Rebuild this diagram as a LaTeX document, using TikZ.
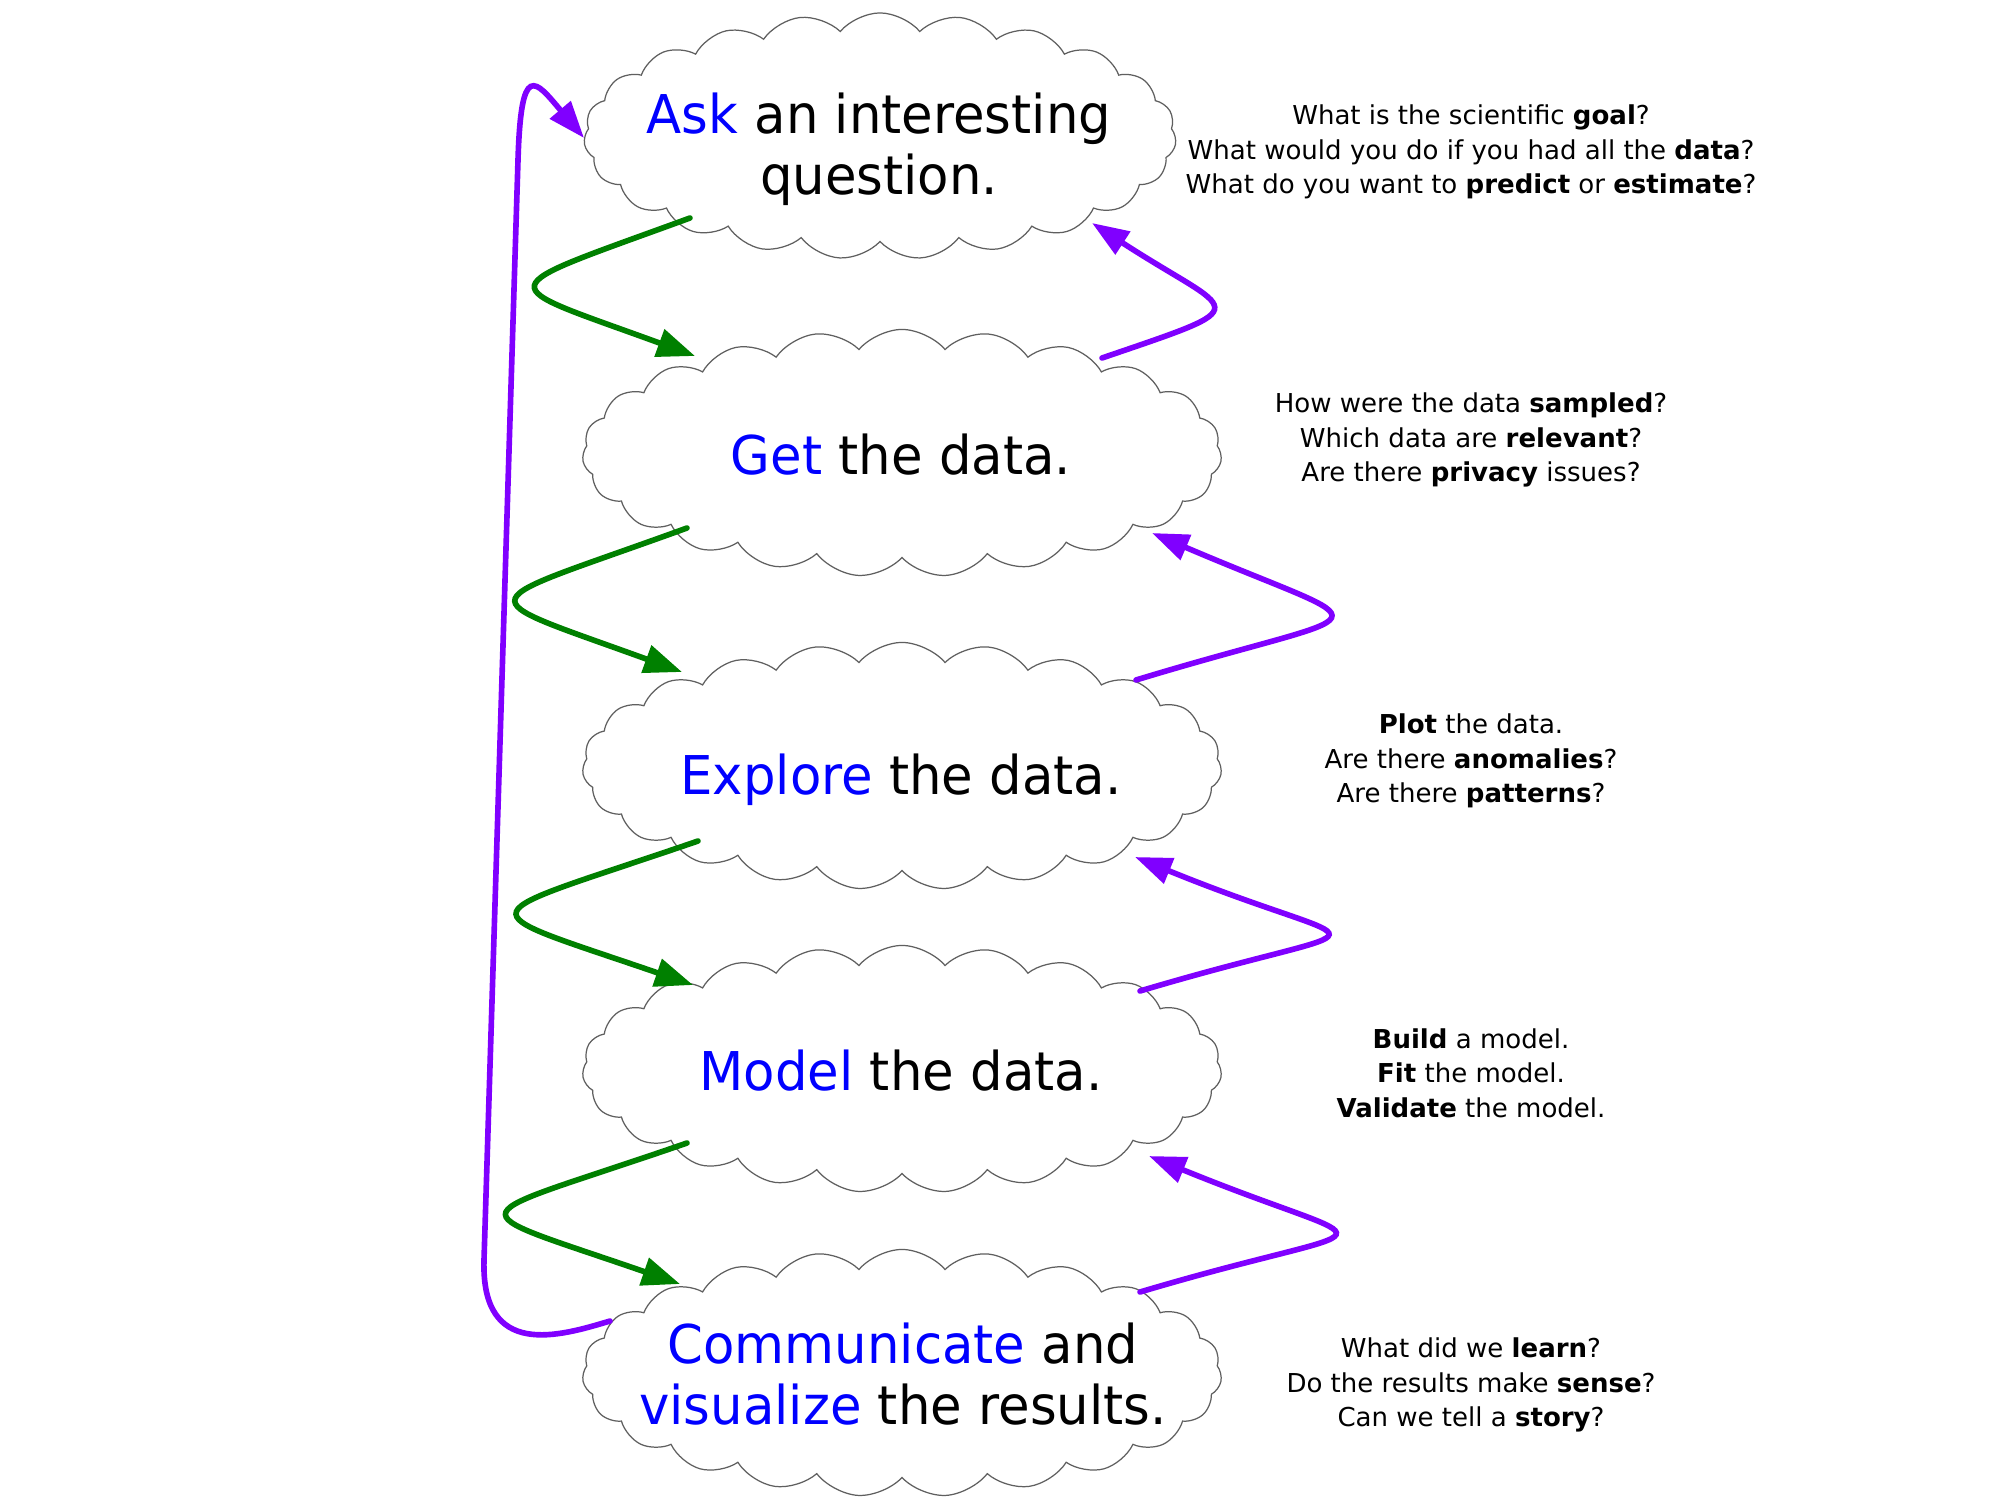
\documentclass[tikz,border=0pt]{standalone}
\usepackage{fontspec}
\setmainfont{DejaVu Sans}
\newfontfamily\titlefont[FakeStretch=0.96]{DejaVu Sans}
\usetikzlibrary{shapes.symbols,arrows.meta}
\definecolor{grn}{RGB}{0,128,0}
\definecolor{pur}{RGB}{128,0,255}
\definecolor{ttlblue}{RGB}{0,0,255}
\definecolor{cloudline}{RGB}{95,95,95}
\begin{document}
\begin{tikzpicture}[x=0.01cm,y=-0.01cm,
  cloudbox/.style={cloud, draw=cloudline, line width=0.35pt, cloud puffs=23,
    cloud puff arc=100, inner sep=0pt, minimum width=6.39cm, minimum height=2.47cm},
  titletext/.style={font=\titlefont\fontsize{15.2}{17.4}\selectfont, align=center, inner sep=0pt},
  notetext/.style={font=\fontsize{7.4}{9.8}\selectfont, align=center, inner sep=0pt},
  garrow/.style={draw=grn, line width=1.6pt, line cap=round, -{Triangle[length=10.8pt,width=8pt]}},
  parrow/.style={draw=pur, line width=1.6pt, line cap=round, -{Triangle[length=10.5pt,width=7.5pt]}}
]
\fill[white] (0,0) rectangle (2000,1500);
\useasboundingbox (0,0) rectangle (2000,1500);

% clouds
\node[cloudbox, minimum width=5.92cm, minimum height=2.46cm] (ask) at (880,136) {};
\node[cloudbox] (get) at (902,453) {};
\node[cloudbox] (explore) at (902,766) {};
\node[cloudbox] (model) at (902,1069) {};
\node[cloudbox] (comm) at (902,1373) {};

% titles
\node[titletext] (askt) at (879,149) {\textcolor{ttlblue}{Ask} an interesting\\question.};
\node[titletext, anchor=base] (gett) at (901,474) {\textcolor{ttlblue}{Get} the data.};
\node[titletext, anchor=base] (explt) at (901,794) {\textcolor{ttlblue}{Explore} the data.};
\node[titletext, anchor=base] (modelt) at (901,1090) {\textcolor{ttlblue}{Model} the data.};
\node[titletext] (commt) at (903,1374) {\textcolor{ttlblue}{Communicate} and\\\textcolor{ttlblue}{visualize} the results.};

% notes
\node[notetext] (askn) at (1471,152) {What is the scientific \textbf{goal}?\\What would you do if you had all the \textbf{data}?\\What do you want to \textbf{predict} or \textbf{estimate}?};
\node[notetext] (getn) at (1471,440) {How were the data \textbf{sampled}?\\Which data are \textbf{relevant}?\\Are there \textbf{privacy} issues?};
\node[notetext] (expln) at (1471,761) {\textbf{Plot} the data.\\Are there \textbf{anomalies}?\\Are there \textbf{patterns}?};
\node[notetext] (modeln) at (1471,1073) {\textbf{Build} a model.\\\textbf{Fit} the model.\\\textbf{Validate} the model.};
\node[notetext] (commn) at (1471,1385) {What did we \textbf{learn}?\\Do the results make \textbf{sense}?\\Can we tell a \textbf{story}?};

% green forward arrows
\draw[garrow] ([shift={(-190,82)}]ask.center) .. controls +(-205,75) and +(-205,-75) .. ([shift={(-207,-97)}]get.center);
\draw[garrow] ([shift={(-215,75)}]get.center) .. controls +(-220,80) and +(-220,-80) .. ([shift={(-220,-94)}]explore.center);
\draw[garrow] ([shift={(-204,75)}]explore.center) .. controls +(-233,80) and +(-233,-80) .. ([shift={(-209,-84)}]model.center);
\draw[garrow] ([shift={(-215,74)}]model.center) .. controls +(-231,80) and +(-231,-80) .. ([shift={(-222,-89)}]comm.center);

% purple backward arrows
\draw[parrow] ([shift={(200,-95)}]get.center) .. controls +(161,-55) and +(143,93) .. ([shift={(212,87)}]ask.center);
\draw[parrow] ([shift={(234,-86)}]explore.center) .. controls +(250,-76) and +(239,102) .. ([shift={(250,80)}]get.center);
\draw[parrow] ([shift={(238,-78)}]model.center) .. controls +(255,-76) and +(245,100) .. ([shift={(233,91)}]explore.center);
\draw[parrow] ([shift={(238,-81)}]comm.center) .. controls +(255,-76) and +(245,100) .. ([shift={(247,87)}]model.center);

% long loop back to the question
\draw[parrow] ([shift={(-292,-52)}]comm.center) .. controls (560,1336) and (481,1360) .. (484,1260)
  -- (518,160) .. controls (521,60) and (535,80) .. ([shift={(-296,2)}]ask.center);
\end{tikzpicture}
\end{document}
